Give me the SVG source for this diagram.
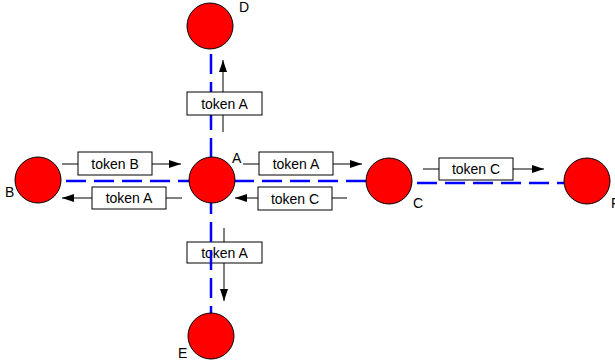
<svg xmlns="http://www.w3.org/2000/svg" width="615" height="363" viewBox="0 0 615 363">
  <defs>
    <marker id="arrow" viewBox="0 0 12 8" refX="12" refY="4" markerWidth="12" markerHeight="8" markerUnits="userSpaceOnUse" orient="auto">
      <path d="M0,0 L12,4 L0,8 Z" fill="#000"/>
    </marker>
    <style>
      .link { stroke: #0000ff; stroke-width: 2.5; stroke-dasharray: 20 8; fill: none; }
      .node { fill: #ff0000; stroke: #000; stroke-width: 1; }
      .lbl { font-family: "Liberation Sans", Arial, sans-serif; font-size: 14px; fill: #000; }
      .tokbox { fill: #fff; stroke: #000; stroke-width: 1; }
      .tok { font-family: "Liberation Sans", Arial, sans-serif; font-size: 14px; fill: #000; text-anchor: middle; }
      .flow { stroke: #000; stroke-width: 1; fill: none; }
    </style>
  </defs>
  <rect width="615" height="363" fill="#fff"/>

  <!-- token moving from A down to E (link passes over it) -->
  <g id="msg-a-e">
    <line class="flow" x1="224" y1="228" x2="224" y2="242"/>
    <rect class="tokbox" x="187" y="242" width="75" height="21"/>
    <text class="tok" x="224.5" y="258">token A</text>
    <line class="flow" x1="224" y1="263" x2="224" y2="301" marker-end="url(#arrow)"/>
  </g>

  <!-- links between nodes -->
  <g id="connectors">
    <line class="link" x1="211" y1="26" x2="211" y2="336"/>
    <line class="link" x1="38" y1="181" x2="389" y2="181"/>
    <line class="link" x1="389" y1="183" x2="587" y2="183"/>
  </g>

  <!-- token moving from A up to D -->
  <g id="msg-a-d">
    <line class="flow" x1="223" y1="132" x2="223" y2="115"/>
    <rect class="tokbox" x="187" y="92" width="75" height="23"/>
    <text class="tok" x="224.5" y="109">token A</text>
    <line class="flow" x1="223" y1="92" x2="223" y2="60" marker-end="url(#arrow)"/>
  </g>

  <!-- token B from B to A -->
  <g id="msg-b-a">
    <line class="flow" x1="62" y1="164" x2="78" y2="164"/>
    <rect class="tokbox" x="78" y="152" width="74" height="23"/>
    <text class="tok" x="115" y="169">token B</text>
    <line class="flow" x1="152" y1="164" x2="181" y2="164" marker-end="url(#arrow)"/>
  </g>

  <!-- token A from A to B -->
  <g id="msg-a-b">
    <line class="flow" x1="182" y1="198" x2="166" y2="198"/>
    <rect class="tokbox" x="92" y="187" width="74" height="22"/>
    <text class="tok" x="129" y="203">token A</text>
    <line class="flow" x1="92" y1="198" x2="62" y2="198" marker-end="url(#arrow)"/>
  </g>

  <!-- token A from A to C -->
  <g id="msg-a-c">
    <line class="flow" x1="243" y1="164" x2="259" y2="164"/>
    <rect class="tokbox" x="259" y="152" width="74" height="23"/>
    <text class="tok" x="296" y="169">token A</text>
    <line class="flow" x1="333" y1="164" x2="362" y2="164" marker-end="url(#arrow)"/>
  </g>

  <!-- token C from C to A -->
  <g id="msg-c-a">
    <line class="flow" x1="347" y1="198" x2="332" y2="198"/>
    <rect class="tokbox" x="258" y="187" width="74" height="23"/>
    <text class="tok" x="295" y="204">token C</text>
    <line class="flow" x1="258" y1="198" x2="235" y2="198" marker-end="url(#arrow)"/>
  </g>

  <!-- token C from C to F -->
  <g id="msg-c-f">
    <line class="flow" x1="423" y1="169" x2="439" y2="169"/>
    <rect class="tokbox" x="439" y="158" width="74" height="22"/>
    <text class="tok" x="476" y="174">token C</text>
    <line class="flow" x1="513" y1="169" x2="544" y2="169" marker-end="url(#arrow)"/>
  </g>

  <!-- nodes -->
  <g id="node-d">
    <circle class="node" cx="210" cy="26" r="23"/>
    <text class="lbl" x="239" y="12">D</text>
  </g>
  <g id="node-a">
    <circle class="node" cx="212" cy="180" r="23"/>
    <text class="lbl" x="232" y="163">A</text>
  </g>
  <g id="node-b">
    <circle class="node" cx="38" cy="180" r="23"/>
    <text class="lbl" x="5" y="197">B</text>
  </g>
  <g id="node-c">
    <circle class="node" cx="389" cy="181" r="23"/>
    <text class="lbl" x="413" y="208">C</text>
  </g>
  <g id="node-f">
    <circle class="node" cx="587" cy="181" r="23"/>
    <text class="lbl" x="611" y="208">F</text>
  </g>
  <g id="node-e">
    <circle class="node" cx="211" cy="336" r="23"/>
    <text class="lbl" x="178" y="358">E</text>
  </g>
</svg>
